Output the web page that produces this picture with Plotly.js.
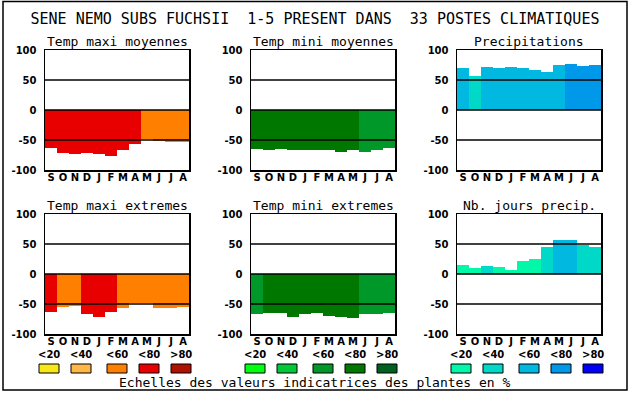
<!DOCTYPE html>
<html>
<head>
<meta charset="utf-8">
<script src="https://cdn.plot.ly/plotly-3.0.1.min.js"></script>
<style>html,body{margin:0;padding:0;background:#fff;}#chart{width:630px;height:394px;}</style>
</head>
<body>
<div id="chart"></div>
<script>
// ---- data ----
const months = ['S','O','N','D','J','F','M','A','M','J','J','A'];
const scaleLabels = ['<20','<40','<60','<80','>80'];
const warmColors  = ['#f8e818','#ffb848','#ff8000','#e80000','#b01000'];
const greenColors = ['#00ff10','#00c838','#009828','#007800','#006020'];
const blueColors  = ['#00f8a8','#00d8c8','#00b8e0','#0098e8','#0000f8'];

const panelTitles = ['Temp maxi moyennes','Temp mini moyennes','Precipitations',
                     'Temp maxi extremes','Temp mini extremes','Nb. jours precip.'];

const tmaxMoyValues = [-64,-72,-74,-72,-74,-76,-67,-57,-48,-52,-54,-54];
const tmaxMoyClass  = [3,3,3,3,3,3,3,3,2,2,2,2];
const tminMoyValues = [-65,-67,-65,-67,-67,-67,-67,-70,-67,-70,-67,-64];
const tminMoyClass  = [3,3,3,3,3,3,3,3,3,2,2,2];
const precValues    = [70,57,72,70,72,70,67,64,75,77,74,75];
const precClass     = [2,1,2,2,2,2,2,2,2,3,3,3];
const tmaxExtValues = [-64,-55,-54,-67,-72,-64,-57,-48,-48,-57,-57,-55];
const tmaxExtClass  = [3,2,2,3,3,3,2,2,2,2,2,2];
const tminExtValues = [-67,-65,-65,-72,-67,-65,-70,-72,-74,-67,-67,-65];
const tminExtClass  = [2,3,3,3,3,3,3,3,3,2,2,2];
const joursValues   = [15,10,13,12,7,22,25,45,57,57,48,45];
const joursClass    = [0,0,1,0,0,0,0,1,2,2,1,1];

const panels = [
  [tmaxMoyValues, tmaxMoyClass, warmColors],
  [tminMoyValues, tminMoyClass, greenColors],
  [precValues, precClass, blueColors],
  [tmaxExtValues, tmaxExtClass, warmColors],
  [tminExtValues, tminExtClass, greenColors],
  [joursValues, joursClass, blueColors]
];
const legendPalettes = [warmColors, greenColors, blueColors];

// ---- layout geometry (pixels) ----
const W = 630, H = 394;
const px = v => v / W;
const py = v => 1 - v / H;
const colLeft = [45, 251, 457];
const plotW = 144;
const rowTop = [50, 214];
const plotH = 120;
const legendOffsets = [-6, 26, 62, 94, 126];
const MONO = 'DejaVu Sans Mono';
const BOLD = 'DejaVu Sans';

const traces = [];
const layout = {
  width: W, height: H,
  margin: {l:0, r:0, t:0, b:0},
  paper_bgcolor: '#fff', plot_bgcolor: '#fff',
  showlegend: false,
  bargap: 0,
  title: {text: 'SENE NEMO SUBS FUCHSII  1-5 PRESENT DANS  33 POSTES CLIMATIQUES',
          x: 0.5, xanchor: 'center', y: py(18.5), yanchor: 'middle', yref: 'paper',
          font: {family: MONO, size: 15, color: '#000'}},
  shapes: [],
  annotations: []
};

panels.forEach((p, i) => {
  const [vals, cls, pal] = p;
  const r = Math.floor(i / 3), c = i % 3;
  const n = i + 1;
  const xa = 'x' + (n === 1 ? '' : n), ya = 'y' + (n === 1 ? '' : n);
  traces.push({
    type: 'bar',
    x: months.map((m, k) => k),
    y: vals,
    marker: {color: cls.map(k => pal[k]), line: {width: 0}},
    width: 1,
    xaxis: xa, yaxis: ya,
    hoverinfo: 'skip'
  });
  const xKey = 'xaxis' + (n === 1 ? '' : n), yKey = 'yaxis' + (n === 1 ? '' : n);
  layout[xKey] = {
    domain: [px(colLeft[c]), px(colLeft[c] + plotW)],
    anchor: ya, range: [-0.5, 11.5],
    tickvals: months.map((m, k) => k), ticktext: months,
    showgrid: false, zeroline: false, ticks: '', ticklen: 0,
    ticklabelstandoff: -3,
    showline: true, mirror: true, linecolor: '#000', linewidth: 1.5,
    tickfont: {family: BOLD, size: 10, color: '#000', weight: 'bold'},
    fixedrange: true
  };
  layout[yKey] = {
    domain: [py(rowTop[r] + plotH), py(rowTop[r])],
    anchor: xa, range: [-100, 100],
    tickvals: [-100, -50, 0, 50, 100], ticktext: ['-100','-50','0','50','100'],
    showgrid: false, zeroline: false, ticks: '',
    ticklabelstandoff: 5,
    showline: true, mirror: true, linecolor: '#000', linewidth: 1.5,
    tickfont: {family: BOLD, size: 10, color: '#000', weight: 'bold'},
    fixedrange: true
  };
  [50, 0, -50].forEach(g => layout.shapes.push({
    type: 'line', xref: xa + ' domain', yref: ya, x0: 0, x1: 1, y0: g, y1: g,
    line: {color: '#000', width: 1.5}, layer: 'above'
  }));
  layout.annotations.push({
    text: panelTitles[i], xref: xa + ' domain', yref: ya + ' domain',
    x: 0.5, y: 1, xanchor: 'center', yanchor: 'bottom', yshift: -1, showarrow: false,
    font: {family: MONO, size: 13, color: '#000'}
  });
});

// legend scales
legendPalettes.forEach((pal, c) => {
  pal.forEach((col, k) => {
    const x0 = colLeft[c] + legendOffsets[k];
    layout.shapes.push({
      type: 'rect', xref: 'paper', yref: 'paper',
      x0: px(x0), x1: px(x0 + 20), y0: py(373), y1: py(364),
      fillcolor: col, line: {color: '#000', width: 1}
    });
    layout.annotations.push({
      text: scaleLabels[k], xref: 'paper', yref: 'paper',
      x: px(x0 + 10), y: py(354.5), xanchor: 'center', yanchor: 'middle', showarrow: false,
      borderpad: 0,
      font: {family: BOLD, size: 10, color: '#000', weight: 'bold'}
    });
  });
});

layout.annotations.push({
  text: 'Echelles des valeurs indicatrices des plantes en %', xref: 'paper', yref: 'paper',
  x: px(315), y: py(382), xanchor: 'center', yanchor: 'middle', showarrow: false,
  borderpad: 0,
  font: {family: MONO, size: 13, color: '#000'}
});

// outer frame
layout.shapes.push({
  type: 'rect', xref: 'paper', yref: 'paper',
  x0: px(3), x1: px(627), y0: py(390), y1: py(1.5),
  line: {color: '#000', width: 1.5}, fillcolor: 'rgba(0,0,0,0)'
});

Plotly.newPlot('chart', traces, layout, {staticPlot: true, displayModeBar: false});
</script>
</body>
</html>
